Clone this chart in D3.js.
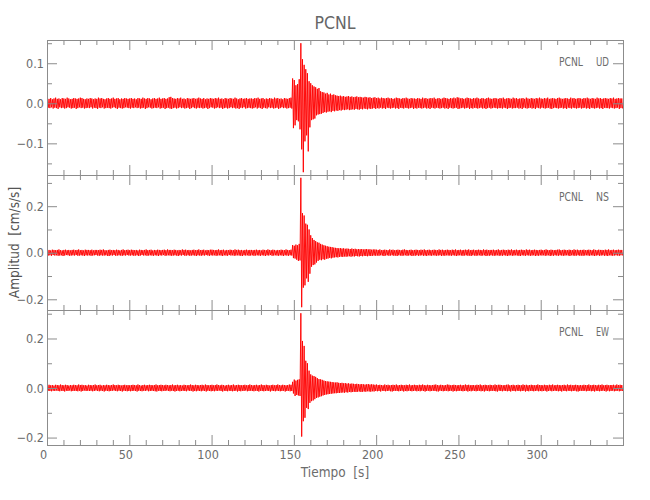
<!DOCTYPE html>
<html><head><meta charset="utf-8">
<script src="https://cdn.jsdelivr.net/npm/d3@7"></script>
<style>
body{margin:0;background:#fff;}
text{font-family:"Liberation Sans Narrow","DejaVu Sans Condensed","Liberation Sans",sans-serif;}
</style>
</head><body>
<svg id="chart" width="650" height="500"></svg>
<script>
// ---------------- DATA ----------------
const title = "PCNL";
const station = "PCNL";
const components = ["UD", "NS", "EW"];
const xTickValues = [0, 50, 100, 150, 200, 250, 300];
const xDomain = [0, 350];
const xLabel = "Tiempo  [s]";
const yLabel = "Amplitud  [cm/s/s]";

const udTicks = [-0.1, 0.0, 0.1];
const nsTicks = [-0.2, 0.0, 0.2];
const ewTicks = [-0.2, 0.0, 0.2];
const udMinorTicks = [-0.15, -0.05, 0.05, 0.15];
const nsMinorTicks = [-0.1, 0.1, 0.3];
const ewMinorTicks = [-0.1, 0.1, 0.3];
const udRange = [-0.179, 0.158];
const nsRange = [-0.246, 0.334];
const ewRange = [-0.23, 0.315];

// per-second envelope (1 s bins from 0 s), in units of 0.001 cm/s/s
// upper peaks (positive) and lower peaks (magnitude of negative)
const udPos = [
12,11,13,10,12,14,11,12,10,13,12,11,14,12,10,11,13,12,11,12,14,13,11,10,12,
11,13,12,10,12,11,14,12,13,11,10,12,13,11,12,14,11,12,13,10,12,11,13,12,11,
12,13,11,12,10,13,12,11,14,12,11,13,12,10,12,13,11,12,14,11,12,13,11,12,15,
16,13,12,11,13,12,14,11,12,10,13,12,11,12,13,11,12,14,12,11,13,10,12,11,13,
12,11,13,12,14,11,12,10,13,12,11,13,12,11,14,12,10,12,13,11,12,13,11,12,12,
11,13,12,14,11,12,13,10,12,11,13,12,11,14,12,13,11,12,10,13,12,11,13,14,62,
58,45,48,60,150,110,96,85,75,55,50,45,42,40,36,38,30,28,27,24,26,22,24,21,22,
20,19,18,19,17,18,16,17,18,16,17,15,16,17,15,16,15,14,16,15,14,15,13,14,15,
13,14,12,14,13,12,13,14,12,13,11,12,14,13,12,11,13,12,14,12,11,13,12,12,11,
13,12,11,14,12,13,11,12,13,12,14,11,12,13,11,12,14,13,12,11,13,12,14,12,15,
14,12,13,11,12,14,13,12,11,13,12,14,12,11,13,12,11,13,14,12,11,12,13,12,11,
13,12,14,11,12,13,12,11,14,12,13,11,12,12,13,11,14,12,11,13,12,11,13,12,14,
12,11,13,12,14,11,12,13,12,11,13,14,12,11,12,13,12,11,14,12,13,11,12,13,12,
11,13,12,14,12,11,13,12,11,14,12,13,11,12,13,12,11,13,12,14,11,12,13,12,12];
const udNeg = [
11,12,10,13,11,12,14,10,12,11,13,12,10,11,13,12,11,14,12,10,12,11,13,12,11,
12,10,13,11,12,14,11,12,10,13,12,11,12,13,11,10,12,14,11,12,13,12,10,11,12,
13,11,12,10,12,11,13,12,11,14,12,10,11,13,12,11,12,10,13,12,11,14,12,11,13,
14,12,11,13,12,10,12,11,13,12,11,14,12,10,12,13,11,12,11,13,12,11,14,12,10,
11,13,12,10,12,11,14,12,11,13,12,10,12,11,13,12,14,11,12,10,13,12,11,12,13,
12,10,13,11,12,14,11,12,13,10,12,11,13,12,11,14,12,10,12,11,13,12,11,13,62,
55,42,45,65,115,172,95,80,120,60,42,40,38,30,28,27,26,24,22,23,21,20,22,19,20,
18,19,17,18,16,17,16,15,17,16,15,16,14,15,16,14,15,13,14,15,13,14,13,12,14,
12,13,11,13,12,14,11,12,13,12,11,13,12,14,11,12,13,11,12,13,12,11,14,12,13,
11,12,13,12,11,13,12,14,11,12,13,11,12,13,12,11,13,12,14,11,12,13,12,11,14,
13,12,11,13,12,11,14,12,13,11,12,13,12,11,13,12,14,12,11,13,12,11,12,13,12,
12,13,11,12,14,12,11,13,12,12,11,13,12,14,11,12,13,12,11,13,12,14,11,12,13,
11,12,13,12,11,13,14,12,11,12,13,12,11,13,12,14,11,12,13,11,12,13,12,11,13,
12,11,13,12,14,11,12,13,12,11,13,12,14,11,12,12,13,11,12,13,12,11,14,12,13];

const nsPos = [
11,12,10,13,12,11,12,14,11,10,12,13,11,12,10,12,13,11,12,14,11,12,10,13,12,
12,11,13,10,12,12,11,13,12,14,11,10,12,13,11,12,11,13,12,10,12,14,11,12,13,
11,13,12,11,12,10,13,12,11,12,14,11,12,13,10,12,11,13,12,11,12,13,11,14,12,
12,11,13,12,10,12,11,14,12,13,11,12,10,12,13,11,12,14,11,12,13,10,12,11,13,
13,12,11,12,14,11,12,13,10,12,11,13,12,11,14,12,13,11,12,10,12,13,11,12,12,
11,12,13,11,12,10,13,12,11,14,12,11,13,12,10,12,11,13,12,11,14,12,11,13,33,
30,35,32,38,322,170,160,125,120,100,75,63,55,50,45,43,38,35,32,30,28,26,25,24,22,
21,20,19,20,18,19,17,18,17,16,18,16,17,15,16,15,16,14,15,16,14,15,13,14,14,
13,12,14,11,12,13,12,11,14,12,13,11,12,13,12,11,13,14,12,11,12,13,11,12,13,
12,11,13,12,14,11,12,13,11,12,13,12,11,14,12,13,11,12,13,12,11,13,12,14,11,
12,13,11,12,13,12,14,11,12,13,11,12,13,12,11,14,12,13,11,12,12,13,11,12,14,
11,12,13,12,11,13,12,14,11,12,13,11,12,13,12,11,14,12,13,11,12,13,12,11,12,
13,11,12,14,12,11,13,12,11,12,13,14,11,12,13,12,11,13,12,11,14,12,13,11,12,
12,13,11,12,13,12,11,14,12,11,13,12,12,11,13,12,14,11,12,13,11,12,13,12,12];
const nsNeg = [
12,11,13,10,12,11,13,12,11,14,12,10,11,13,12,11,12,10,13,12,11,12,14,11,12,
11,13,12,11,10,12,13,11,12,12,11,13,14,11,12,10,13,12,11,12,13,11,12,10,12,
12,11,13,12,11,14,12,10,12,11,13,12,11,12,13,11,12,14,11,12,10,13,12,11,12,
13,12,11,12,14,11,12,10,13,12,11,13,12,11,12,14,11,12,13,11,12,10,12,13,11,
12,11,13,12,11,12,14,11,12,13,10,12,11,13,12,11,12,13,14,11,12,11,13,12,11,
13,12,11,12,13,11,12,14,11,12,10,13,12,11,12,13,11,12,14,11,12,13,11,12,23,
25,30,35,33,234,150,140,110,125,90,60,53,50,42,35,30,32,28,30,26,25,22,24,21,20,
19,20,18,17,18,16,17,16,15,17,15,16,14,15,16,14,15,13,14,15,13,14,13,12,13,
12,13,11,12,14,12,11,13,12,11,13,12,14,11,12,13,12,11,13,12,11,14,12,13,11,
13,12,11,13,12,14,11,12,13,11,12,13,12,11,14,12,13,11,12,12,13,11,12,14,12,
11,12,13,12,11,13,12,14,11,12,13,12,11,13,12,11,14,12,13,11,12,13,12,11,13,
12,13,11,12,14,12,11,13,12,11,12,13,14,11,12,13,11,12,13,12,11,14,12,13,11,
12,11,13,12,11,14,12,13,11,12,13,11,12,13,12,11,12,14,11,12,13,12,11,13,12,
13,12,11,12,13,11,12,14,12,11,13,12,11,13,12,14,11,12,13,12,11,12,13,11,12];

const ewPos = [
12,13,11,12,10,13,12,11,14,12,11,13,12,10,12,11,13,12,11,14,12,13,11,12,10,
13,12,11,12,14,11,12,13,10,12,11,13,12,11,12,14,12,11,13,12,10,12,13,11,12,
11,12,13,12,11,14,12,10,12,13,11,12,13,12,11,12,14,11,12,13,12,11,13,12,11,
12,14,11,12,13,11,12,10,13,12,11,12,14,12,11,13,12,11,12,13,11,14,12,11,12,
13,11,12,14,12,11,13,12,10,12,13,11,12,14,11,12,13,12,11,12,13,11,12,14,12,
11,12,13,11,12,14,12,11,13,12,10,12,13,11,12,14,12,11,13,12,11,12,14,13,25,
34,30,33,35,302,190,170,110,100,70,55,50,48,45,40,36,35,33,30,28,27,26,25,24,23,
22,23,21,20,21,19,20,18,19,17,18,17,16,17,16,15,16,15,14,15,16,14,15,14,13,
14,12,13,12,11,14,12,13,11,12,13,12,14,11,12,13,12,11,13,12,14,11,12,13,12,
11,13,12,14,12,11,13,12,11,12,13,14,12,11,13,12,11,12,14,13,11,12,13,12,11,
12,13,11,12,14,12,13,11,12,12,11,13,12,14,11,12,13,12,11,13,12,11,14,12,13,
13,12,11,12,13,14,11,12,13,11,12,13,12,11,14,12,13,11,12,13,12,11,12,14,12,
12,11,13,12,11,13,12,14,11,12,13,12,11,12,13,11,14,12,13,11,12,13,12,11,12,
11,13,12,12,14,11,12,13,12,11,13,12,14,11,12,13,11,12,12,13,11,14,12,13,12];
const ewNeg = [
11,12,13,11,12,10,12,13,11,12,14,11,12,10,13,12,11,12,13,11,14,12,10,12,11,
12,11,13,12,10,12,13,11,12,14,11,12,13,12,11,10,12,13,11,12,14,11,12,13,12,
13,12,11,12,14,11,12,13,11,12,10,13,12,11,12,13,14,11,12,13,11,12,10,12,13,
11,12,14,12,11,13,12,11,12,13,10,12,11,14,12,13,11,12,13,11,12,14,11,12,13,
12,13,11,12,10,12,14,11,12,13,11,12,13,12,11,14,12,13,11,12,10,13,12,11,12,
13,11,12,14,11,12,13,12,11,12,14,11,12,13,11,12,13,12,11,14,12,11,13,12,22,
32,28,30,32,196,134,120,80,85,60,53,50,45,40,38,35,33,30,28,26,25,24,23,22,21,
21,20,20,19,18,19,17,18,16,17,16,15,16,15,14,16,15,14,15,13,14,15,13,14,12,
13,12,14,11,12,13,12,11,13,14,12,11,12,13,12,11,14,12,13,11,12,13,12,11,13,
12,13,11,12,14,12,11,13,12,11,12,13,14,11,12,13,12,11,13,12,11,14,12,13,12,
11,12,13,12,11,14,12,13,11,12,13,12,11,13,12,14,11,12,13,12,11,12,13,14,11,
12,13,11,12,13,12,14,11,12,13,11,12,13,12,11,14,12,13,11,12,13,12,11,13,12,
13,12,11,14,12,11,13,12,11,12,13,12,14,11,12,13,11,12,13,12,11,13,14,12,11,
12,11,13,12,11,13,12,14,11,12,13,12,11,12,14,11,13,12,11,13,12,11,13,12,12];

// ---------------- LAYOUT ----------------
const svg = d3.select("#chart");
const left = 47, right = 623;
const panelTops = [40, 175, 310];
const panelH = 135;
const axisColor = "#8c8c8c";
const textColor = "#6c6c6c";

const x = d3.scaleLinear().domain(xDomain).range([left, right]);

const panels = [
  {comp: components[0], pos: udPos, neg: udNeg, ticks: udTicks, minor: udMinorTicks, range: udRange},
  {comp: components[1], pos: nsPos, neg: nsNeg, ticks: nsTicks, minor: nsMinorTicks, range: nsRange},
  {comp: components[2], pos: ewPos, neg: ewNeg, ticks: ewTicks, minor: ewMinorTicks, range: ewRange}
];

const xMinor = d3.range(xDomain[0], xDomain[1] + 1, 10).filter(v => v % 50 !== 0);

function fmt(v) {
  const s = d3.format(".1f")(Math.abs(v));
  return (v < 0 ? "\u2212" : "") + s;
}

function styleAxis(g) {
  g.select(".domain").remove();
  g.selectAll("line").attr("stroke", axisColor).attr("stroke-width", 1);
  g.selectAll("text").attr("fill", textColor).attr("font-size", "12.5px")
    .attr("font-family", '"Liberation Sans Narrow","DejaVu Sans Condensed",sans-serif');
}

svg.append("defs");

panels.forEach((p, idx) => {
  const top = panelTops[idx];
  const bottom = top + panelH;
  const y = d3.scaleLinear().domain(p.range).range([bottom, top]);

  const clipId = "clip" + idx;
  svg.select("defs").append("clipPath").attr("id", clipId)
    .append("rect").attr("x", left).attr("y", top).attr("width", right - left).attr("height", panelH);

  // trace: zigzag between per-second positive and negative peaks
  const pts = [];
  p.pos.forEach((v, i) => {
    pts.push([i + 0.25, v / 1000]);
    pts.push([i + 0.75, -p.neg[i] / 1000]);
  });
  const line = d3.line().x(d => x(d[0])).y(d => y(d[1]));
  svg.append("path")
    .attr("clip-path", `url(#${clipId})`)
    .attr("d", line(pts))
    .attr("fill", "none")
    .attr("stroke", "#ff0000")
    .attr("stroke-width", 1)
    .attr("stroke-opacity", 0.92)
    .attr("stroke-linejoin", "miter");

  // left axis major + minor
  const gl = svg.append("g").attr("transform", `translate(${left},0)`)
    .call(d3.axisLeft(y).tickValues(p.ticks).tickFormat(fmt).tickSizeInner(-10).tickSizeOuter(0).tickPadding(3));
  styleAxis(gl);
  const glm = svg.append("g").attr("transform", `translate(${left},0)`)
    .call(d3.axisLeft(y).tickValues(p.minor).tickFormat("").tickSizeInner(-5).tickSizeOuter(0));
  styleAxis(glm);
  // right axis
  const gr = svg.append("g").attr("transform", `translate(${right},0)`)
    .call(d3.axisRight(y).tickValues(p.ticks).tickFormat("").tickSizeInner(-10).tickSizeOuter(0));
  styleAxis(gr);
  const grm = svg.append("g").attr("transform", `translate(${right},0)`)
    .call(d3.axisRight(y).tickValues(p.minor).tickFormat("").tickSizeInner(-5).tickSizeOuter(0));
  styleAxis(grm);
  // top axis
  const gt = svg.append("g").attr("transform", `translate(0,${top})`)
    .call(d3.axisTop(x).tickValues(xTickValues).tickFormat("").tickSizeInner(-10).tickSizeOuter(0));
  styleAxis(gt);
  const gtm = svg.append("g").attr("transform", `translate(0,${top})`)
    .call(d3.axisTop(x).tickValues(xMinor).tickFormat("").tickSizeInner(-5).tickSizeOuter(0));
  styleAxis(gtm);
  // bottom axis
  const gb = svg.append("g").attr("transform", `translate(0,${bottom})`)
    .call(d3.axisBottom(x).tickValues(xTickValues).tickFormat(idx === 2 ? d3.format("d") : "")
      .tickSizeInner(-10).tickSizeOuter(0).tickPadding(5));
  styleAxis(gb);
  gb.selectAll("text").attr("dx", -4);
  const gbm = svg.append("g").attr("transform", `translate(0,${bottom})`)
    .call(d3.axisBottom(x).tickValues(xMinor).tickFormat("").tickSizeInner(-5).tickSizeOuter(0));
  styleAxis(gbm);

  // frame
  svg.append("rect").attr("x", left).attr("y", top).attr("width", right - left).attr("height", panelH)
    .attr("fill", "none").attr("stroke", axisColor).attr("stroke-width", 1)
    .attr("shape-rendering", "crispEdges");

  // panel label
  svg.append("text").attr("x", 559).attr("y", top + 26).text(station)
    .attr("fill", textColor).attr("font-size", "13px")
    .attr("textLength", 24).attr("lengthAdjust", "spacingAndGlyphs");
  svg.append("text").attr("x", 596).attr("y", top + 26).text(p.comp)
    .attr("fill", textColor).attr("font-size", "13px")
    .attr("textLength", 13).attr("lengthAdjust", "spacingAndGlyphs");
});

// title
svg.append("text").attr("x", (left + right) / 2).attr("y", 29).attr("text-anchor", "middle")
  .attr("fill", "#666").attr("font-size", "17.5px").text(title);

// x label
svg.append("text").attr("x", (left + right) / 2).attr("y", 477).attr("text-anchor", "middle")
  .attr("fill", textColor).attr("font-size", "13.5px").attr("xml:space", "preserve").text(xLabel);

// y label
svg.append("text").attr("transform", `translate(19,${(panelTops[0] + panelTops[2] + panelH) / 2}) rotate(-90)`)
  .attr("text-anchor", "middle").attr("fill", "#555").attr("font-size", "13.5px")
  .attr("xml:space", "preserve").text(yLabel);
</script>
</body></html>
